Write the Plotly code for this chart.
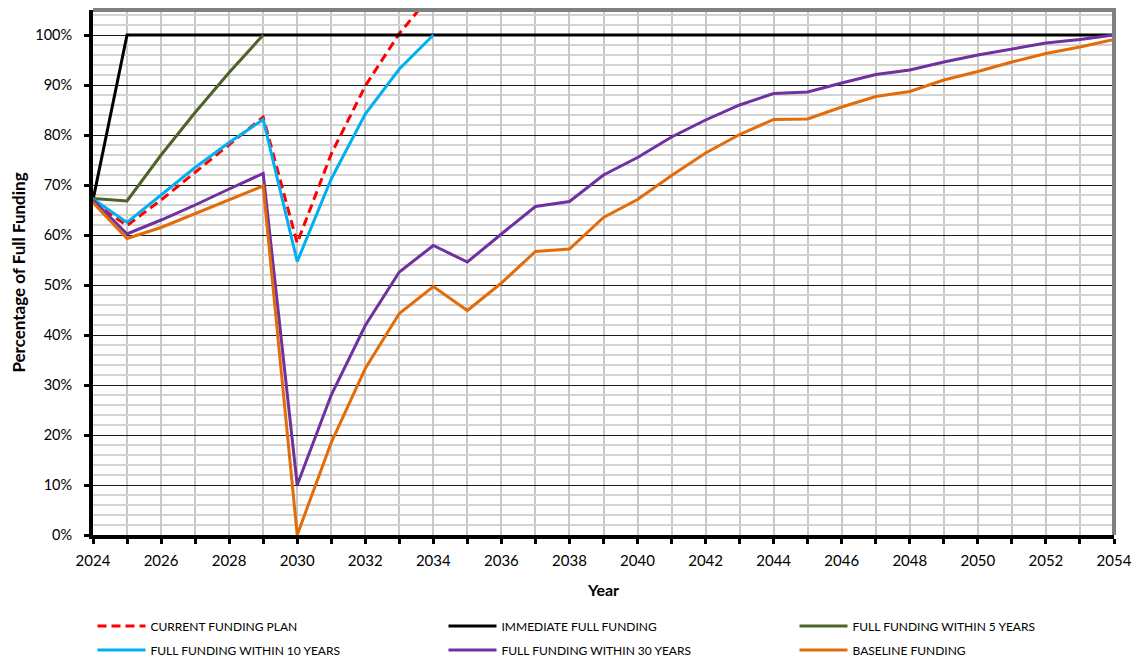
import plotly.graph_objects as go

years = list(range(2024, 2055))

current_years = list(range(2024, 2035))
current_plan = [66.5, 61.9, 67.0, 72.5, 78.0, 83.6, 58.4, 76.2, 89.8, 100.3, 108.5]

immediate = [67.0] + [100.0] * 30

five_years = list(range(2024, 2030))
five_year_vals = [67.3, 66.8, 76.0, 84.5, 92.5, 100.0]

ten_years = list(range(2024, 2035))
ten_year_vals = [67.2, 62.5, 68.0, 73.5, 78.5, 83.1, 54.7, 71.2, 84.2, 93.2, 100.0]

thirty_year_vals = [67.0, 60.2, 63.0, 66.0, 69.2, 72.3, 10.0, 28.0, 41.9, 52.6, 57.9,
                    54.6, 60.2, 65.7, 66.7, 72.0, 75.5, 79.6, 83.0, 86.0, 88.3,
                    88.6, 90.4, 92.1, 93.0, 94.6, 96.0, 97.2, 98.4, 99.1, 100.0]

baseline_vals = [66.5, 59.3, 61.5, 64.3, 67.0, 69.8, 0.0, 18.5, 33.3, 44.3, 49.7,
                 44.9, 50.4, 56.7, 57.2, 63.5, 67.1, 71.9, 76.4, 80.1, 83.1,
                 83.2, 85.6, 87.7, 88.7, 91.0, 92.7, 94.6, 96.3, 97.6, 99.1]

FONT = "Lato"
LW = 3

fig = go.Figure()
fig.add_trace(go.Scatter(x=current_years, y=current_plan, mode="lines",
                         name="CURRENT FUNDING PLAN", legend="legend",
                         line=dict(color="#ff0000", width=LW, dash="9px,5px")))
fig.add_trace(go.Scatter(x=years, y=immediate, mode="lines",
                         name="IMMEDIATE FULL FUNDING", legend="legend",
                         line=dict(color="#000000", width=LW)))
fig.add_trace(go.Scatter(x=five_years, y=five_year_vals, mode="lines",
                         name="FULL FUNDING WITHIN 5 YEARS", legend="legend",
                         line=dict(color="#4f6228", width=LW)))
fig.add_trace(go.Scatter(x=ten_years, y=ten_year_vals, mode="lines",
                         name="FULL FUNDING WITHIN 10 YEARS", legend="legend2",
                         line=dict(color="#00b0f0", width=LW)))
fig.add_trace(go.Scatter(x=years, y=thirty_year_vals, mode="lines",
                         name="FULL FUNDING WITHIN 30 YEARS", legend="legend2",
                         line=dict(color="#7030a0", width=LW)))
fig.add_trace(go.Scatter(x=years, y=baseline_vals, mode="lines",
                         name="BASELINE FUNDING", legend="legend2",
                         line=dict(color="#e36c09", width=LW)))

leg_common = dict(orientation="h", x=-0.0005, xanchor="left", yanchor="middle",
                  entrywidth=288, entrywidthmode="pixels", itemwidth=48,
                  font=dict(family=FONT, size=12), traceorder="normal",
                  bgcolor="rgba(0,0,0,0)")

# page has an 8px body margin, so the figure is laid out 8px up/left of the target pixels
fig.update_layout(
    width=1133, height=651,
    margin=dict(l=85, r=27, t=2, b=124, autoexpand=False),
    paper_bgcolor="white", plot_bgcolor="white",
    font=dict(family=FONT, color="#000000", size=15),
    legend=dict(y=-(626 - 535) / 525, **leg_common),
    legend2=dict(y=-(650 - 535) / 525, **leg_common),
    xaxis=dict(range=[2024, 2054], dtick=2, tick0=2024, automargin=False,
               showgrid=True, gridcolor="#c8c8c8", gridwidth=1.5,
               minor=dict(dtick=1, showgrid=True, gridcolor="#c8c8c8", gridwidth=1.5,
                          ticks="outside", ticklen=5, tickwidth=3, tickcolor="black"),
               ticks="outside", ticklen=5, tickwidth=3, tickcolor="black",
               showline=True, linecolor="black", linewidth=4,
               tickfont=dict(size=15), ticklabelstandoff=4,
               title=dict(text="<b>Year</b>", font=dict(size=16), standoff=18),
               zeroline=False),
    yaxis=dict(range=[0, 105], dtick=10, tick0=0, ticksuffix="%", automargin=False,
               showgrid=True, gridcolor="#1a1a1a", gridwidth=1,
               minor=dict(dtick=2, showgrid=True, gridcolor="#d3d3d3", gridwidth=1.5),
               ticks="outside", ticklen=5, tickwidth=3, tickcolor="black",
               showline=True, linecolor="black", linewidth=4,
               tickfont=dict(size=14.5), ticklabelstandoff=9,
               title=dict(text="<b>Percentage of Full Funding</b>", font=dict(size=17), standoff=14),
               zeroline=False),
    shapes=[
        dict(type="line", xref="paper", yref="paper", x0=0, x1=1.002, y0=1, y1=1,
             line=dict(color="#808080", width=4), layer="above"),
        dict(type="line", xref="paper", yref="paper", x0=1, x1=1, y0=0, y1=1.004,
             line=dict(color="#808080", width=4), layer="above"),
    ],
)

fig.write_html("out.html")
